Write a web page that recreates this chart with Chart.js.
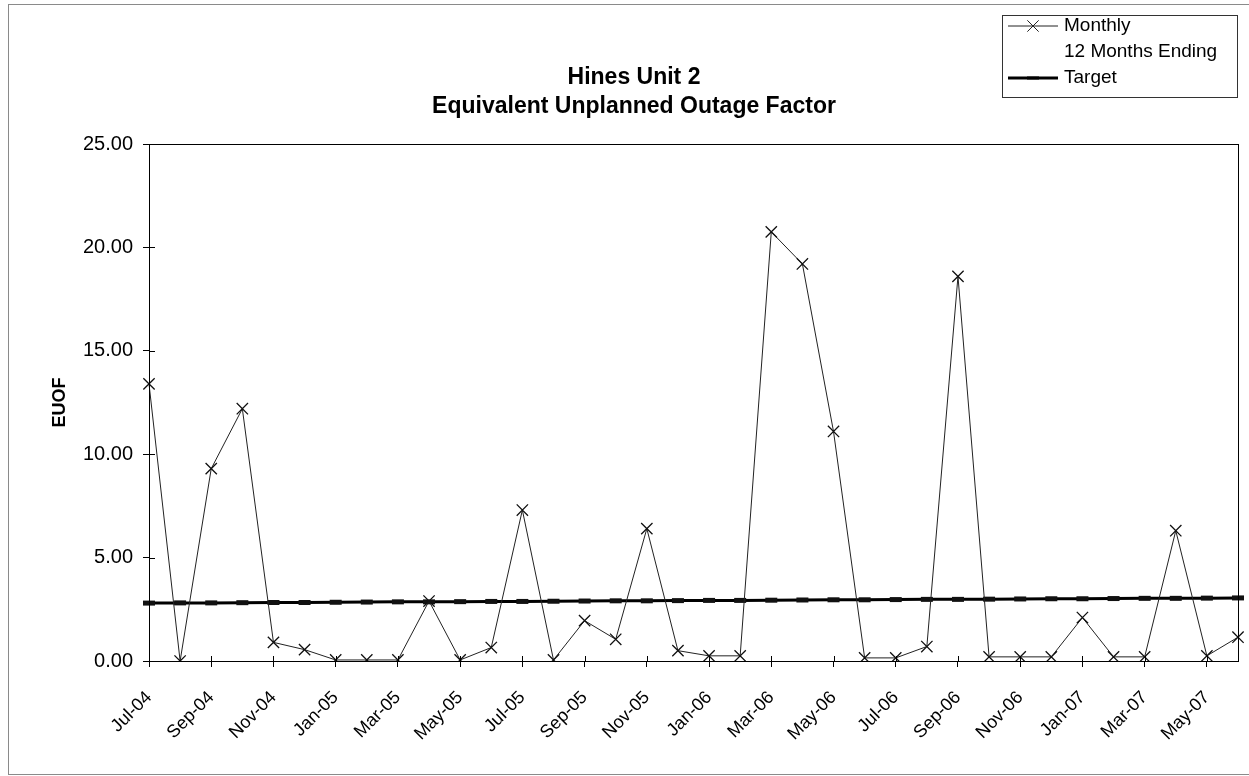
<!DOCTYPE html>
<html>
<head>
<meta charset="utf-8">
<script src="https://cdn.jsdelivr.net/npm/chart.js@4"></script>
<style>
  body { margin: 0; background: #fff; }
  canvas { display: block; }
</style>
</head>
<body>
<canvas id="myChart" width="1249" height="776"></canvas>
<script>
var months = ["Jul-04", "Aug-04", "Sep-04", "Oct-04", "Nov-04", "Dec-04",
    "Jan-05", "Feb-05", "Mar-05", "Apr-05", "May-05", "Jun-05",
    "Jul-05", "Aug-05", "Sep-05", "Oct-05", "Nov-05", "Dec-05",
    "Jan-06", "Feb-06", "Mar-06", "Apr-06", "May-06", "Jun-06",
    "Jul-06", "Aug-06", "Sep-06", "Oct-06", "Nov-06", "Dec-06",
    "Jan-07", "Feb-07", "Mar-07", "Apr-07", "May-07", "Jun-07"];

var monthly = [13.4, 0.0, 9.3, 12.2, 0.9, 0.55,
    0.05, 0.05, 0.05, 2.9, 0.05, 0.65,
    7.3, 0.05, 1.95, 1.05, 6.4, 0.5,
    0.25, 0.25, 20.75, 19.2, 11.1, 0.15,
    0.15, 0.7, 18.6, 0.2, 0.2, 0.2,
    2.1, 0.2, 0.2, 6.3, 0.25, 1.15];

// shown in the legend only, no values plotted
var twelveMonths = [];

var target = [2.80, 2.81, 2.81, 2.82, 2.83, 2.83, 2.84, 2.85, 2.86, 2.86, 2.87, 2.88,
    2.88, 2.89, 2.90, 2.91, 2.91, 2.92, 2.93, 2.93, 2.94, 2.95, 2.96, 2.96,
    2.97, 2.98, 2.98, 2.99, 3.00, 3.01, 3.01, 3.02, 3.03, 3.03, 3.04, 3.05];

var yTicks = [0, 5, 10, 15, 20, 25];

var FONT = "'Liberation Sans', Arial, sans-serif";

// title, legend box, outer frame, plot frame and inner tick marks
var decor = {
    id: "decor",
    afterDraw: function (chart) {
        var c = chart.ctx;
        var a = chart.chartArea;
        c.save();

        // outer frame
        c.strokeStyle = "#8a8a8a";
        c.lineWidth = 1;
        c.strokeRect(8.5, 4.5, 1250, 770);

        // plot frame
        c.strokeStyle = "#000";
        c.strokeRect(Math.round(a.left) + 0.5, Math.round(a.top) + 0.5,
            Math.round(a.right - a.left), Math.round(a.bottom - a.top));

        // inner halves of the crossing tick marks
        var y = chart.scales.y, x = chart.scales.x;
        c.beginPath();
        yTicks.forEach(function (v) {
            var py = Math.round(y.getPixelForValue(v)) + 0.5;
            c.moveTo(a.left, py);
            c.lineTo(a.left + 6, py);
        });
        months.forEach(function (m, i) {
            if (i % 2 !== 0) return;
            var px = Math.round(x.getPixelForValue(i)) + 0.5;
            c.moveTo(px, a.bottom);
            c.lineTo(px, a.bottom - 5);
        });
        c.stroke();

        // title
        c.fillStyle = "#000";
        c.textAlign = "center";
        c.textBaseline = "middle";
        c.font = "bold 23px " + FONT;
        c.fillText("Hines Unit 2", 634, 78);
        c.fillText("Equivalent Unplanned Outage Factor", 634, 107);

        // legend
        c.strokeStyle = "#333";
        c.strokeRect(1002.5, 15.5, 235, 82);
        c.textAlign = "left";
        c.font = "19px " + FONT;
        var rows = [26, 52, 78];
        chart.data.datasets.forEach(function (ds, i) {
            var ly = rows[i];
            if (ds.borderWidth > 0 && ds.data.length) {
                c.strokeStyle = ds.borderColor;
                c.lineWidth = ds.borderWidth;
                c.beginPath();
                c.moveTo(1008, ly);
                c.lineTo(1058, ly);
                c.stroke();
                Chart.helpers.drawPoint(c, {
                    pointStyle: ds.pointStyle,
                    radius: ds.pointRadius,
                    borderWidth: ds.pointBorderWidth,
                    rotation: 0
                }, 1033, ly);
            }
            c.fillStyle = "#000";
            c.fillText(ds.label, 1064, ly);
        });
        c.restore();
    }
};

var ctx = document.getElementById("myChart");

var myChart = new Chart(ctx, {
    type: "line",
    data: {
        labels: months,
        datasets: [
            {
                label: "Monthly",
                data: monthly,
                borderColor: "#222",
                borderWidth: 1,
                pointStyle: "crossRot",
                pointRadius: 8,
                pointBorderWidth: 1.3,
                pointBorderColor: "#111",
                fill: false,
                tension: 0
            },
            {
                label: "12 Months Ending",
                data: twelveMonths,
                borderColor: "rgba(0,0,0,0)",
                borderWidth: 0,
                pointRadius: 0,
                fill: false
            },
            {
                label: "Target",
                data: target,
                borderColor: "#000",
                borderWidth: 3,
                pointStyle: "line",
                pointRadius: 6,
                pointBorderWidth: 5,
                pointBorderColor: "#111",
                fill: false,
                tension: 0
            }
        ]
    },
    options: {
        responsive: false,
        animation: false,
        layout: { padding: { top: 144, right: 5, left: 0, bottom: 0 } },
        plugins: {
            legend: { display: false },
            title: { display: false },
            tooltip: { enabled: false }
        },
        scales: {
            x: {
                offset: false,
                afterFit: function (s) {
                    s.height = 115;
                    s.paddingLeft = 0;
                    s.paddingRight = 0;
                },
                grid: {
                    drawOnChartArea: false,
                    tickLength: 6,
                    color: function (c) { return c.index % 2 === 0 ? "#000" : "rgba(0,0,0,0)"; }
                },
                border: { color: "#000", width: 1 },
                ticks: {
                    autoSkip: false,
                    maxRotation: 45,
                    minRotation: 45,
                    color: "#000",
                    padding: 20,
                    font: { family: FONT, size: 18 },
                    callback: function (v, i) { return i % 2 === 0 ? months[i] : ""; }
                }
            },
            y: {
                min: 0,
                max: 25,
                afterFit: function (s) { s.width = 149; },
                afterBuildTicks: function (s) {
                    s.ticks = yTicks.map(function (v) { return { value: v }; });
                },
                grid: { drawOnChartArea: false, tickLength: 6, color: "#000" },
                border: { color: "#000", width: 1 },
                ticks: {
                    color: "#000",
                    padding: 10,
                    font: { family: FONT, size: 20 },
                    callback: function (v) { return v.toFixed(2); }
                },
                title: {
                    display: true,
                    text: "EUOF",
                    color: "#000",
                    padding: { top: 49, bottom: 0 },
                    font: { family: FONT, size: 18, weight: "bold" }
                }
            }
        }
    },
    plugins: [decor]
});
</script>
</body>
</html>
